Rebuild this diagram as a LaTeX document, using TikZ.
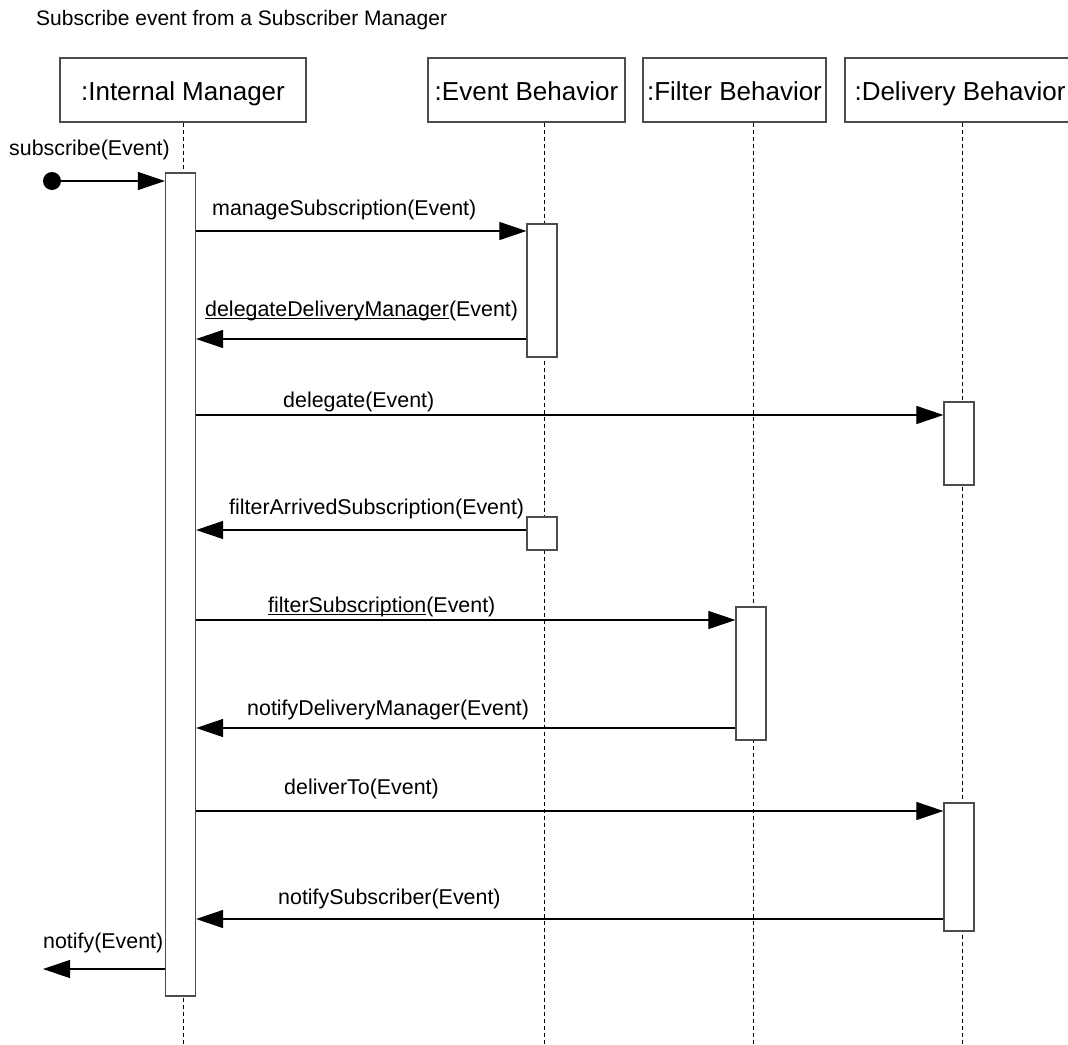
\documentclass[tikz,border=0pt]{standalone}
\usepackage{fontspec}
\setmainfont{Liberation Sans}
\usetikzlibrary{arrows.meta,positioning}

\newcommand{\ulined}[1]{\setbox0\hbox{#1}\rlap{\rule[-2.6pt]{\wd0}{1pt}}\box0}

\begin{document}
\begin{tikzpicture}[%
			x=1pt, y=-1pt,
			font=\fontsize{21.4}{25}\selectfont,
			msg/.style={%
				-{Triangle[length=27pt,width=18pt]},
				line width=1.1pt
			},
			obj/.style={%
				draw=black!70,
				line width=1.2pt,
				minimum height=64pt,
				inner sep=0pt,
				text height=24pt,
				text depth=4pt,
				font=\fontsize{26}{30}\selectfont
			},
			bar/.style={%
				draw=black!70,
				fill=white,
				line width=1.2pt,
				minimum width=30pt,
				inner sep=0pt
			},
			lifeline/.style={dash pattern=on 4pt off 3pt, line width=0.9pt},
			lbl/.style={anchor=base west, inner sep=0pt}
			]
			\useasboundingbox (0,0) rectangle (1068,1044);
			\node[lbl, font=\fontsize{21}{25}\selectfont] (title) at (36,25) {Subscribe event from a Subscriber Manager};
			
			\node[obj, minimum width=246pt] (im) at (183,90) {:Internal Manager};
			\node[obj, minimum width=197pt] (ev) at (526.5,90) {:Event Behavior};
			\node[obj, minimum width=183pt] (fi) at (734.5,90) {:Filter Behavior};
			\node[obj, minimum width=230pt] (de) at (960,90) {:Delivery Behavior};
			
			\coordinate (imL) at (183,1044);
			\coordinate (evL) at (544,1044);
			\coordinate (fiL) at (753,1044);
			\coordinate (deL) at (962,1044);
			\draw[lifeline] (im.south -| imL) -- (imL);
			\draw[lifeline] (ev.south -| evL) -- (evL);
			\draw[lifeline] (fi.south -| fiL) -- (fiL);
			\draw[lifeline] (de.south -| deL) -- (deL);
			
			\node[bar, minimum height=823pt] (imBar) at (180.5,584.5) {};
			\node[bar, minimum height=133pt] (evBar1) at (542,290.5) {};
			\node[bar, minimum height=83pt] (deBar1) at (959,443.5) {};
			\node[bar, minimum height=33pt] (evBar2) at (542,533.5) {};
			\node[bar, minimum height=133pt] (fiBar) at (751,673.5) {};
			\node[bar, minimum height=128pt] (deBar2) at (959,867) {};
			
			\node[circle, fill, minimum size=18pt, inner sep=0pt] (start) at (52,181) {};
			\coordinate (out) at (43,969);
			
			\coordinate (m1) at (0,231);
			\coordinate (m2) at (0,339);
			\coordinate (m3) at (0,415);
			\coordinate (m4) at (0,530);
			\coordinate (m5) at (0,620);
			\coordinate (m6) at (0,728);
			\coordinate (m7) at (0,811);
			\coordinate (m8) at (0,919);
			
			\draw[msg] (start) -- (imBar.west |- start);
			\draw[msg] (imBar.east |- m1) -- (evBar1.west |- m1);
			\draw[msg] (evBar1.west |- m2) -- (imBar.east |- m2);
			\draw[msg] (imBar.east |- m3) -- (deBar1.west |- m3);
			\draw[msg] (evBar2.west |- m4) -- (imBar.east |- m4);
			\draw[msg] (imBar.east |- m5) -- (fiBar.west |- m5);
			\draw[msg] (fiBar.west |- m6) -- (imBar.east |- m6);
			\draw[msg] (imBar.east |- m7) -- (deBar2.west |- m7);
			\draw[msg] (deBar2.west |- m8) -- (imBar.east |- m8);
			\draw[msg] (imBar.west |- out) -- (out);
			
			\node[lbl] (l0) at (9,155) {subscribe(Event)};
			\node[lbl] (l1) at (212,215) {manageSubscription(Event)};
			\node[lbl] (l2) at (205,316) {\ulined{delegateDeliveryManager}(Event)};
			\node[lbl] (l3) at (283,407) {delegate(Event)};
			\node[lbl] (l4) at (229,514) {filterArrivedSubscription(Event)};
			\node[lbl] (l5) at (268,612) {\ulined{filterSubscription}(Event)};
			\node[lbl] (l6) at (247,715) {notifyDeliveryManager(Event)};
			\node[lbl] (l7) at (284,794) {deliverTo(Event)};
			\node[lbl] (l8) at (278,904) {notifySubscriber(Event)};
			\node[lbl] (l9) at (43,948) {notify(Event)};
 			\end{tikzpicture}
\end{document}
